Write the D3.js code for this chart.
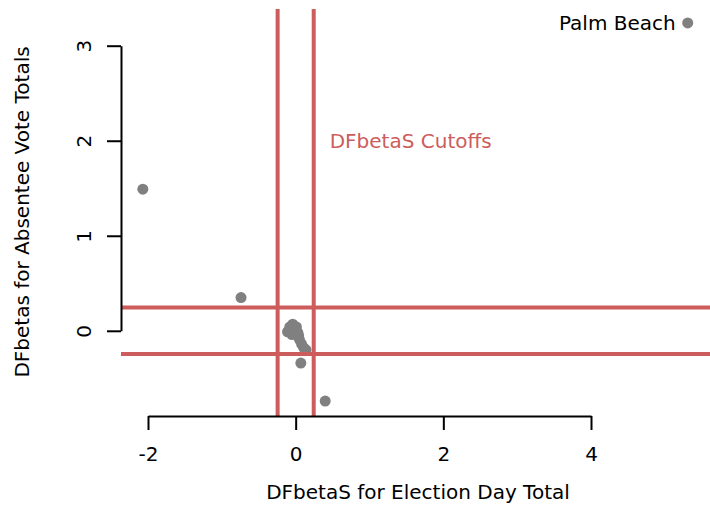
<!DOCTYPE html>
<html>
<head>
<meta charset="utf-8">
<script src="https://cdn.jsdelivr.net/npm/d3@7"></script>
<style>
  body { margin: 0; background: #fff; }
  text { font-family: "DejaVu Sans", sans-serif; fill: #000; }
</style>
</head>
<body>
<div id="chart"></div>
<script>
// DFbetaS for election day total (x) vs absentee vote totals (y)
var dfbElection = [5.31, -2.07, -0.74, 0.07, 0.40, -0.08, -0.04, -0.11, -0.01, 0.03, 0.05, 0.08, 0.11, 0.14, 0.01, -0.05, 0.04];
var dfbAbsentee = [3.24, 1.49, 0.35, -0.34, -0.74, 0.04, 0.07, -0.01, 0.01, -0.02, -0.09, -0.14, -0.18, -0.20, 0.04, -0.04, -0.05];
var pointLabels = ["Palm Beach", "", "", "", "", "", "", "", "", "", "", "", "", "", "", "", ""];
var cutoff = 2 / Math.sqrt(67);
var xTicks = [-2, 0, 2, 4];
var yTicks = [0, 1, 2, 3];

var w = 710, h = 531;
var plot = {left: 121, right: 740, top: 9, bottom: 416};
var red = "#cd5c5c", grey = "#808080";
var fs = "20px";

var svg = d3.select("#chart").append("svg")
    .attr("width", w)
    .attr("height", h);

var x = d3.scaleLinear().domain([-2, 4]).range([148, 591]);
var y = d3.scaleLinear().domain([0, 3]).range([330.8, 45.7]);

// points
svg.append("g")
    .selectAll("circle")
    .data(dfbElection)
    .enter().append("circle")
    .attr("cx", function (d) { return x(d); })
    .attr("cy", function (d, i) { return y(dfbAbsentee[i]); })
    .attr("r", 5.5)
    .attr("fill", grey);

// labels
svg.append("g")
    .selectAll("text")
    .data(pointLabels.filter(function (d) { return d != ""; }))
    .enter().append("text")
    .attr("x", function (d) { return x(dfbElection[pointLabels.indexOf(d)]) - 12; })
    .attr("y", function (d) { return y(dfbAbsentee[pointLabels.indexOf(d)]) + 7; })
    .attr("text-anchor", "end")
    .style("font-size", fs)
    .text(function (d) { return d; });

// cutoff lines
var cut = svg.append("g").attr("stroke", red).attr("stroke-width", 4);
[-cutoff, cutoff].forEach(function (c) {
    cut.append("line")
        .attr("x1", x(c)).attr("x2", x(c))
        .attr("y1", plot.top).attr("y2", plot.bottom);
    cut.append("line")
        .attr("x1", plot.left).attr("x2", plot.right)
        .attr("y1", y(c)).attr("y2", y(c));
});

svg.append("text")
    .attr("x", x(cutoff) + 16)
    .attr("y", y(2) + 7)
    .style("font-size", fs)
    .style("fill", red)
    .text("DFbetaS Cutoffs");

// x axis
var xa = svg.append("g")
    .attr("transform", "translate(0," + plot.bottom + ")")
    .call(d3.axisBottom(x).tickValues(xTicks).tickSize(14).tickSizeOuter(0).tickPadding(17).tickFormat(d3.format("d")));
xa.select(".domain").attr("stroke-width", 2);
xa.selectAll(".tick line").attr("stroke-width", 2);
xa.selectAll(".tick text").style("font-size", fs).style("font-family", "DejaVu Sans")
    .text(function (d) { return String(d); });

// y axis
var ya = svg.append("g")
    .attr("transform", "translate(" + plot.left + ",0)")
    .call(d3.axisLeft(y).tickValues(yTicks).tickSize(14).tickSizeOuter(0).tickFormat(d3.format("d")));
ya.select(".domain").attr("stroke-width", 2);
ya.selectAll(".tick line").attr("stroke-width", 2);
ya.selectAll(".tick text")
    .style("font-size", fs).style("font-family", "DejaVu Sans")
    .attr("text-anchor", "middle")
    .attr("x", null)
    .attr("y", 0)
    .attr("dy", "0.35em")
    .attr("transform", "translate(-37,0) rotate(-90)");

// axis titles
svg.append("text")
    .attr("x", 418)
    .attr("y", 499)
    .attr("text-anchor", "middle")
    .style("font-size", fs)
    .text("DFbetaS for Election Day Total");

svg.append("text")
    .attr("transform", "translate(29,212) rotate(-90)")
    .attr("text-anchor", "middle")
    .style("font-size", fs)
    .text("DFbetas for Absentee Vote Totals");
</script>
</body>
</html>
